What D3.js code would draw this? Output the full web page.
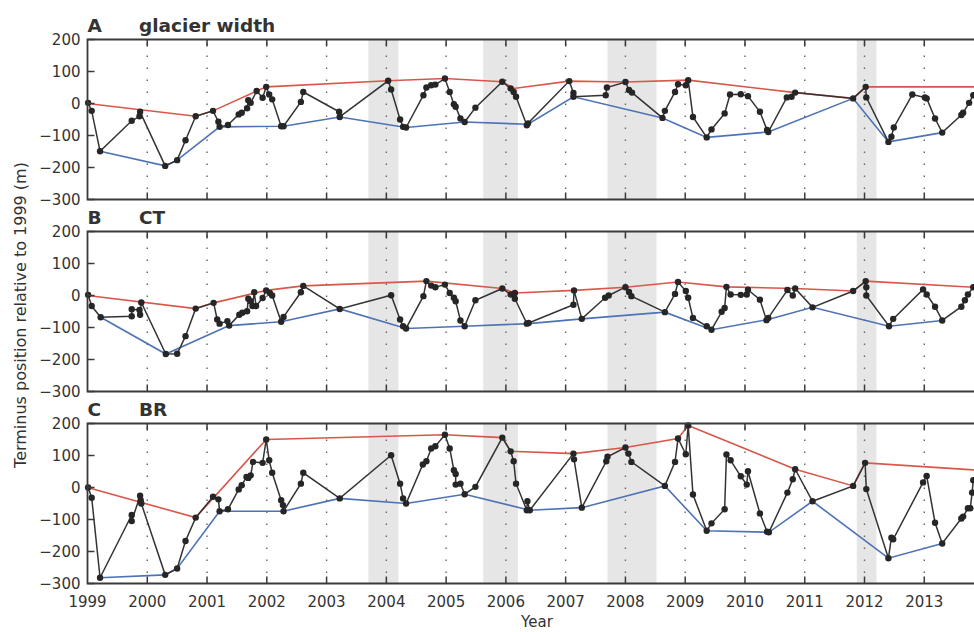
<!DOCTYPE html>
<html>
<head>
<meta charset="utf-8">
<script src="https://cdn.jsdelivr.net/npm/d3@7"></script>
<style>
	body { margin: 0; background: #fff; }
	svg { display: block; font-family: "DejaVu Sans", sans-serif; }
</style>
</head>
<body>
<div id="chart"></div>
<script>
// Terminus position, [decimal year, metres relative to 1999]

var panelLetters = ['A', 'B', 'C'];
var panelNames = ['glacier width', 'CT', 'BR'];
var yTicks = [-300, -200, -100, 0, 100, 200];
var yearTicks = d3.range(1999, 2015);
var shadedSpans = [[2003.7, 2004.2], [2005.62, 2006.2], [2007.7, 2008.52], [2011.87, 2012.2]];

var widthObs = [
	[1999.01, 2], [1999.07, -23], [1999.21, -149], [1999.74, -54], [1999.87, -40], [1999.88, -26],
	[2000.30, -195], [2000.50, -177], [2000.64, -115], [2000.81, -40], [2001.10, -23], [2001.19, -57],
	[2001.21, -73], [2001.35, -67], [2001.53, -34], [2001.58, -29], [2001.67, -15], [2001.69, 10],
	[2001.73, 2], [2001.83, 39], [2001.93, 18], [2001.99, 52], [2002.04, 28], [2002.09, 13],
	[2002.24, -71], [2002.28, -71], [2002.57, 5], [2002.61, 36], [2003.21, -26], [2003.22, -42],
	[2004.03, 71], [2004.08, 44], [2004.23, -50], [2004.28, -73], [2004.33, -75], [2004.62, 26],
	[2004.67, 50], [2004.75, 57], [2004.82, 59], [2004.98, 78], [2005.06, 36], [2005.13, -2],
	[2005.16, -10], [2005.24, -47], [2005.31, -58], [2005.49, -13], [2005.94, 68], [2006.08, 47],
	[2006.13, 36], [2006.17, 21], [2006.35, -68], [2006.37, -62], [2007.06, 70], [2007.13, 33],
	[2007.13, 21], [2007.67, 26], [2007.69, 50], [2008.00, 67], [2008.06, 42], [2008.11, 34],
	[2008.62, -45], [2008.66, -23], [2008.83, 36], [2008.88, 60], [2009.01, 57], [2009.05, 73],
	[2009.13, -42], [2009.36, -106], [2009.44, -81], [2009.66, -31], [2009.75, 28], [2009.93, 29],
	[2010.05, 23], [2010.25, -26], [2010.37, -83], [2010.39, -89], [2010.70, 19], [2010.78, 21],
	[2010.84, 34], [2011.81, 16], [2012.02, 52], [2012.03, 19], [2012.40, -120], [2012.45, -104],
	[2012.49, -75], [2012.80, 28], [2013.01, 19], [2013.04, 16], [2013.18, -47], [2013.30, -91],
	[2013.62, -36], [2013.65, -29], [2013.75, 2], [2013.82, 26]
];
var widthMax = [
	[1999.0, 0], [2000.81, -40], [2001.10, -23], [2001.99, 52], [2004.03, 71], [2004.98, 78],
	[2005.94, 68], [2006.13, 47], [2007.06, 70], [2008.00, 67], [2009.05, 73], [2010.84, 34],
	[2011.81, 16], [2012.02, 52], [2014.2, 52]
];
var widthMin = [
	[1999.21, -149], [2000.30, -195], [2000.50, -177], [2001.21, -73], [2002.28, -71], [2003.22, -42],
	[2004.33, -75], [2005.31, -58], [2006.37, -65], [2007.13, 21], [2008.62, -45], [2009.36, -106],
	[2010.39, -89], [2011.81, 16], [2012.40, -120], [2013.30, -91]
];

var ctObs = [
	[1999.01, 2], [1999.07, -33], [1999.22, -68], [1999.74, -65], [1999.74, -43], [1999.87, -45],
	[1999.88, -60], [1999.90, -22], [2000.31, -183], [2000.50, -182], [2000.64, -127], [2000.81, -41],
	[2001.11, -23], [2001.17, -75], [2001.21, -88], [2001.34, -80], [2001.37, -94], [2001.54, -60],
	[2001.59, -54], [2001.67, -49], [2001.69, -10], [2001.73, -18], [2001.76, -33], [2001.79, 10],
	[2001.82, -33], [2001.93, -8], [2001.99, 16], [2002.05, 8], [2002.09, 0], [2002.24, -82],
	[2002.28, -67], [2002.57, 10], [2002.61, 30], [2003.22, -42], [2004.08, 1], [2004.23, -75],
	[2004.28, -96], [2004.33, -103], [2004.62, -2], [2004.67, 45], [2004.75, 31], [2004.82, 26],
	[2004.98, 34], [2005.06, 8], [2005.13, -7], [2005.16, -18], [2005.24, -78], [2005.31, -96],
	[2005.49, -15], [2005.94, 22], [2006.08, 3], [2006.15, 8], [2006.15, -10], [2006.35, -88],
	[2006.38, -86], [2007.13, -29], [2007.14, 16], [2007.27, -73], [2007.66, -7], [2007.72, 0],
	[2008.00, 26], [2008.06, 11], [2008.10, -2], [2008.66, -52], [2008.83, 5], [2008.88, 42],
	[2009.01, 14], [2009.05, -7], [2009.13, -70], [2009.36, -96], [2009.44, -107], [2009.61, -51],
	[2009.66, -39], [2009.69, 27], [2009.76, 3], [2009.93, 2], [2010.03, 3], [2010.05, 18],
	[2010.25, -13], [2010.36, -77], [2010.39, -70], [2010.71, 17], [2010.80, 0], [2010.84, 22],
	[2011.13, -37], [2011.81, 14], [2012.02, 45], [2012.03, 26], [2012.03, 0], [2012.41, -96],
	[2012.48, -73], [2012.98, 19], [2013.04, 3], [2013.18, -35], [2013.30, -78], [2013.62, -35],
	[2013.68, -15], [2013.73, 3], [2013.82, 26]
];
var ctMax = [
	[1999.0, 0], [2000.81, -41], [2001.11, -23], [2001.99, 16], [2002.61, 30], [2004.67, 45],
	[2005.94, 22], [2006.15, 8], [2007.14, 16], [2008.00, 26], [2008.88, 42], [2009.69, 27],
	[2010.84, 22], [2011.81, 14], [2012.02, 45], [2013.82, 26], [2014.2, 20]
];
var ctMin = [
	[1999.22, -68], [2000.31, -183], [2001.37, -94], [2002.24, -82], [2003.22, -42], [2004.33, -103],
	[2005.31, -96], [2006.38, -88], [2007.27, -73], [2008.66, -52], [2009.44, -107], [2010.39, -75],
	[2011.13, -37], [2012.41, -96], [2013.30, -78]
];

var brObs = [
	[1999.01, 0], [1999.07, -32], [1999.21, -282], [1999.74, -86], [1999.74, -105], [1999.88, -26],
	[1999.89, -40], [1999.90, -50], [2000.30, -273], [2000.50, -253], [2000.64, -167], [2000.81, -94],
	[2001.10, -29], [2001.19, -37], [2001.21, -74], [2001.35, -68], [2001.53, -6], [2001.58, 7],
	[2001.66, 33], [2001.69, 30], [2001.73, 38], [2001.77, 80], [2001.93, 77], [2001.99, 150],
	[2002.04, 85], [2002.09, 46], [2002.24, -40], [2002.27, -55], [2002.28, -74], [2002.57, 12],
	[2002.61, 46], [2003.22, -34], [2004.08, 101], [2004.23, 12], [2004.28, -34], [2004.33, -50],
	[2004.61, 72], [2004.67, 82], [2004.75, 122], [2004.82, 129], [2004.98, 165], [2005.06, 122],
	[2005.13, 54], [2005.16, 42], [2005.16, 9], [2005.24, 12], [2005.31, -21], [2005.49, 2],
	[2005.94, 156], [2006.08, 113], [2006.13, 82], [2006.17, 12], [2006.35, -71], [2006.36, -43],
	[2006.40, -71], [2007.13, 106], [2007.14, 88], [2007.27, -63], [2007.68, 82], [2007.70, 96],
	[2008.00, 125], [2008.05, 106], [2008.10, 80], [2008.66, 5], [2008.83, 80], [2008.88, 153],
	[2009.01, 104], [2009.05, 194], [2009.13, -22], [2009.36, -135], [2009.44, -112], [2009.66, -68],
	[2009.69, 103], [2009.76, 85], [2009.93, 35], [2010.03, 9], [2010.05, 51], [2010.25, -81],
	[2010.37, -138], [2010.40, -140], [2010.71, -16], [2010.80, 26], [2010.84, 57], [2011.13, -43],
	[2011.81, 5], [2012.01, 77], [2012.03, -5], [2012.40, -221], [2012.45, -157], [2012.48, -162],
	[2012.98, 16], [2013.04, 36], [2013.18, -110], [2013.30, -175], [2013.62, -97], [2013.65, -91],
	[2013.73, -65], [2013.77, -65], [2013.80, -16], [2013.82, 23]
];
var brMax = [
	[1999.0, 0], [2000.81, -94], [2001.99, 150], [2004.98, 165], [2005.94, 156], [2006.08, 113],
	[2007.13, 106], [2008.00, 125], [2008.88, 153], [2009.05, 194], [2010.84, 57], [2011.81, 5],
	[2012.01, 77], [2013.82, 55], [2014.2, 52]
];
var brMin = [
	[1999.21, -282], [2000.30, -273], [2000.50, -253], [2001.21, -74], [2002.28, -74], [2003.22, -34],
	[2004.33, -50], [2005.31, -21], [2006.40, -71], [2007.27, -63], [2008.66, 5], [2009.36, -135],
	[2010.40, -140], [2011.13, -43], [2012.40, -221], [2013.30, -175]
];

var panels = [
	{obs: widthObs, max: widthMax, min: widthMin},
	{obs: ctObs, max: ctMax, min: ctMin},
	{obs: brObs, max: brMax, min: brMin}
];

var W = 974, H = 632;
var left = 87.5;
var panelTops = [39.5, 231.5, 423.5];
var panelH = 160;
var ink = '#3a3a3a';

var svg = d3.select('#chart').append('svg')
	.attr('width', W)
	.attr('height', H);

// x runs on past the right edge of the picture (cropped like the original)
var x = d3.scaleLinear().domain([1999, 2014]).range([left, left + 15 * 59.77]);

panels.forEach(function (p, i) {
	var top = panelTops[i];
	var bottom = top + panelH;
	var y = d3.scaleLinear().domain([-300, 200]).range([bottom, top]);
	var g = svg.append('g');

	// shaded seasons
	g.selectAll('rect.shade')
		.data(shadedSpans)
		.enter().append('rect')
		.attr('x', function (d) { return x(d[0]); })
		.attr('width', function (d) { return x(d[1]) - x(d[0]); })
		.attr('y', top)
		.attr('height', panelH)
		.attr('fill', '#e6e6e6');

	// dotted year grid
	g.selectAll('line.grid')
		.data(yearTicks.slice(1))
		.enter().append('line')
		.attr('x1', function (d) { return x(d); })
		.attr('x2', function (d) { return x(d); })
		.attr('y1', top + 4)
		.attr('y2', bottom)
		.attr('stroke', '#666')
		.attr('stroke-width', 1.4)
		.attr('stroke-dasharray', '1.4,10.6');

	var line = d3.line()
		.x(function (d) { return x(d[0]); })
		.y(function (d) { return y(d[1]); });

	g.append('path').datum(p.max)
		.attr('d', line).attr('fill', 'none')
		.attr('stroke', '#d9574a').attr('stroke-width', 1.6);
	g.append('path').datum(p.min)
		.attr('d', line).attr('fill', 'none')
		.attr('stroke', '#4e72b6').attr('stroke-width', 1.6);
	g.append('path').datum(p.obs)
		.attr('d', line).attr('fill', 'none')
		.attr('stroke', '#333').attr('stroke-width', 1.5);
	g.selectAll('circle')
		.data(p.obs)
		.enter().append('circle')
		.attr('cx', function (d) { return x(d[0]); })
		.attr('cy', function (d) { return y(d[1]); })
		.attr('r', 3.2)
		.attr('fill', '#262626');

	// frame (right side is off the picture)
	g.append('path')
		.attr('d', 'M' + W + ',' + top + 'H' + left + 'V' + bottom + 'H' + W)
		.attr('fill', 'none')
		.attr('stroke', ink)
		.attr('stroke-width', 1.8);

	// inward ticks, top and bottom
	g.selectAll('line.xt')
		.data(yearTicks.slice(1))
		.enter().append('path')
		.attr('d', function (d) {
			var px = x(d);
			return 'M' + px + ',' + top + 'v7M' + px + ',' + bottom + 'v-7';
		})
		.attr('stroke', ink)
		.attr('stroke-width', 1.5);

	g.selectAll('line.yt')
		.data(yTicks)
		.enter().append('line')
		.attr('x1', left)
		.attr('x2', left + 7)
		.attr('y1', function (d) { return y(d); })
		.attr('y2', function (d) { return y(d); })
		.attr('stroke', ink)
		.attr('stroke-width', 1.5);

	g.selectAll('text.yl')
		.data(yTicks)
		.enter().append('text')
		.attr('x', left - 7)
		.attr('y', function (d) { return y(d); })
		.attr('dy', '0.36em')
		.attr('text-anchor', 'end')
		.attr('font-size', 15)
		.attr('fill', '#333')
		.text(function (d) { return d < 0 ? '\u2212' + Math.abs(d) : d; });

	// panel title
	g.append('text')
		.attr('x', left)
		.attr('y', top - 8)
		.attr('font-size', 18.5)
		.attr('font-weight', 'bold')
		.attr('fill', '#333')
		.text(panelLetters[i]);
	g.append('text')
		.attr('x', 139)
		.attr('y', top - 8)
		.attr('font-size', 18.5)
		.attr('font-weight', 'bold')
		.attr('fill', '#333')
		.text(panelNames[i]);

	if (i === panels.length - 1) {
		g.selectAll('text.xl')
			.data(yearTicks.slice(0, 15))
			.enter().append('text')
			.attr('x', function (d) { return x(d); })
			.attr('y', bottom + 18)
			.attr('dy', '0.36em')
			.attr('text-anchor', 'middle')
			.attr('font-size', 15)
			.attr('fill', '#333')
			.text(function (d) { return d; });
	}
});

svg.append('text')
	.attr('x', 537)
	.attr('y', 622)
	.attr('dy', '0.36em')
	.attr('text-anchor', 'middle')
	.attr('font-size', 15)
	.attr('fill', '#333')
	.text('Year');

svg.append('text')
	.attr('transform', 'translate(20,315) rotate(-90)')
	.attr('dy', '0.36em')
	.attr('text-anchor', 'middle')
	.attr('font-size', 16)
	.attr('fill', '#333')
	.text('Terminus position relative to 1999 (m)');
</script>
</body>
</html>
